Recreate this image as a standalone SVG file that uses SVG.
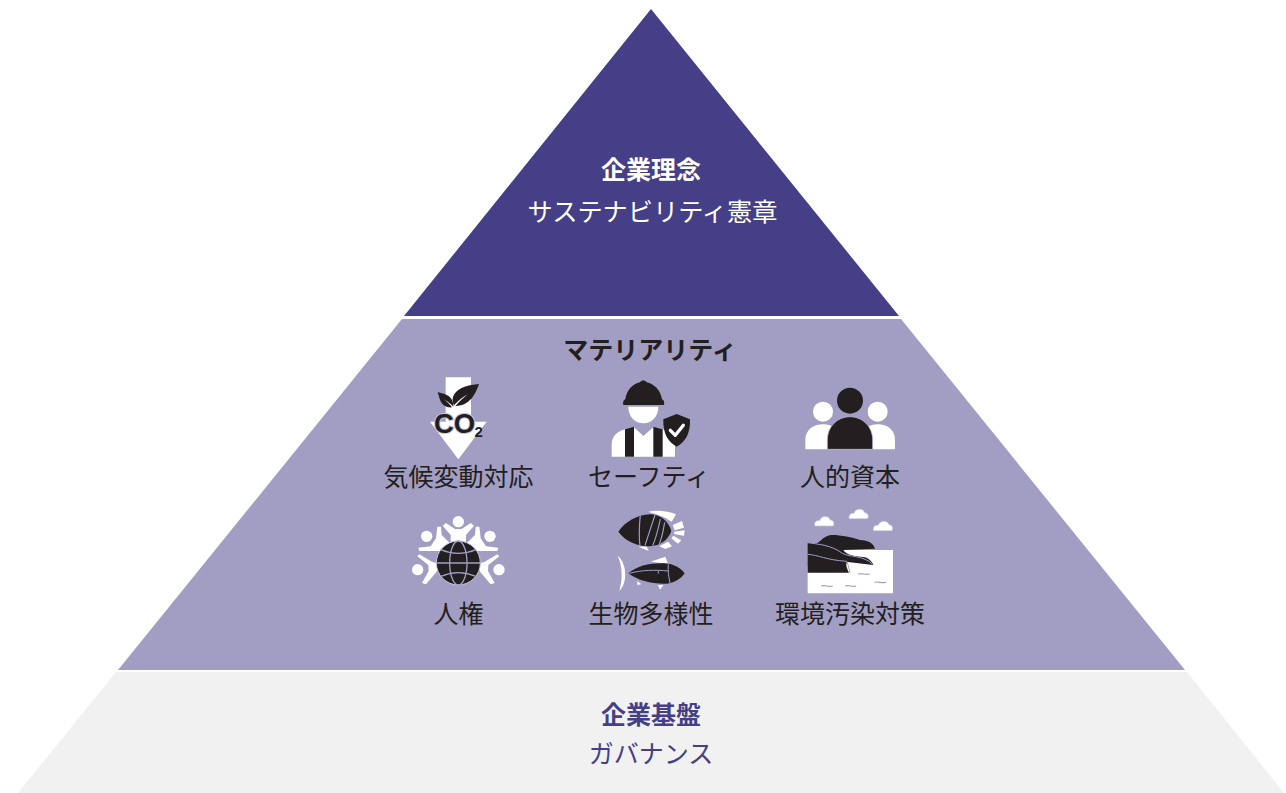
<svg xmlns="http://www.w3.org/2000/svg" width="1286" height="793" viewBox="0 0 1286 793">
<style>
text{font-family:"Noto Sans CJK JP","Noto Sans",sans-serif;font-size:25px;text-anchor:middle;fill:#231f20}
.b{font-weight:700}
.w{fill:#fff}
.p{fill:#453f87}
.k{fill:#231f20}
.lw{fill:none;stroke:#fff;stroke-linecap:round;stroke-linejoin:round}
.lm{fill:none;stroke:#a29ec3}
.hl{fill:#fff;stroke:#c9c6dd;stroke-width:2}
</style>
<rect width="1286" height="793" fill="#fff"/>
<g id="tier-top">
<polygon points="651,9 899,316 404,316" fill="#453f87"/>
<text class="b w" x="651" y="179">企業理念</text>
<text class="w" x="652.500" y="221" style="font-size:25.200px">サステナビリティ憲章</text>
</g>
<g id="tier-middle">
<polygon points="402,319 901,319 1185,670 118,670" fill="#a29ec3"/>
<text class="b" x="650" y="359">マテリアリティ</text>
</g>
<g id="tier-bottom">
<polygon points="116,672 1187,672 1284,793 18,793" fill="#f1f1f1"/>
<text class="b p" x="651" y="724">企業基盤</text>
<text class="p" x="651" y="763">ガバナンス</text>
</g>
<g id="climate">
<g transform="translate(400 370) scale(.33333)">
<polygon class="w" points="137,22 213,22 213,155 260,155 175,268 90,155 137,155"/>
<path class="k" d="M237,42C205,45 178,52 165,70C155,84 157,96 162,106C178,90 190,80 203,73C190,84 178,94 166,108C190,108 208,96 220,78C228,66 233,54 237,42Z"/>
<path class="k" d="M113,67C125,70 140,72 150,82C158,90 160,100 160,110C150,100 142,94 132,88C142,96 150,104 156,112C140,114 128,106 122,94C118,86 116,76 113,67Z"/>
</g>
<text x="434" y="433" style="font-family:'Liberation Sans',sans-serif;font-weight:700;font-size:27.500px;text-anchor:start;stroke:#c9c6dd;stroke-width:2;paint-order:stroke">CO</text>
<text x="474.500" y="436.500" style="font-family:'Liberation Sans',sans-serif;font-weight:700;font-size:15px;text-anchor:start">2</text>
<text x="458.500" y="486">気候変動対応</text>
</g>
<g id="safety">
<g transform="translate(590 370) scale(.33333)">
<path class="w" d="M115,110H205C205,140 185,160 160,160C135,160 115,140 115,110Z"/>
<path class="k" d="M100,105C98,98 100,90 106,88C110,60 128,42 150,37C154,30 166,30 170,37C192,42 212,60 216,88C222,90 224,98 222,105Z"/>
<path class="w" d="M65,260V225C65,200 80,185 105,178L132,172L160,198L190,172L218,178C240,185 255,200 255,225V260Z"/>
<path class="k" d="M105,178L132,170V260H105ZM190,170L218,178V260H190Z"/>
<path class="k" d="M260,132L300,148C302,190 285,218 260,230C235,218 218,190 220,148Z"/>
<polyline class="lw" stroke-width="10" points="241,181 256,196 280,166"/>
</g>
<text x="649" y="486">セーフティ</text>
</g>
<g id="human-capital">
<g transform="translate(790 375) scale(.33333)">
<circle class="w" cx="99" cy="110" r="30"/>
<circle class="w" cx="263" cy="110" r="30"/>
<path class="w" d="M46,223V195C46,165 70,148 99,148C128,148 150,165 150,195V223Z"/>
<path class="w" d="M315,223V195C315,165 292,148 263,148C234,148 212,165 212,195V223Z"/>
<circle class="k" cx="180" cy="77" r="39"/>
<path class="k" d="M112,223V195C112,155 142,125 180,125C218,125 248,155 248,195V223Z" stroke="#c9c6dd" stroke-width="2"/>
</g>
<text x="850" y="486">人的資本</text>
</g>
<g id="human-rights">
<g transform="translate(400 505) scale(.33333)">
<circle class="w" cx="175" cy="50" r="17"/>
<circle class="w" cx="80" cy="94" r="17"/>
<circle class="w" cx="270" cy="94" r="17"/>
<circle class="w" cx="53" cy="194" r="17"/>
<circle class="w" cx="297" cy="194" r="17"/>
<polygon class="w" points="128,62 138,54 165,72 185,72 212,54 222,62 198,90 198,110 152,110 152,90"/>
<polygon class="w" points="112,65 123,65 125,90 150,115 125,138 58,138 55,128 92,124 108,100"/>
<polygon class="w" points="238,65 227,65 225,90 200,115 225,138 292,138 295,128 258,124 242,100"/>
<polygon class="w" points="52,154 58,148 98,172 118,175 110,200 78,238 66,234 86,198 85,180"/>
<polygon class="w" points="298,154 292,148 252,172 232,175 240,200 272,238 284,234 264,198 265,180"/>
<circle class="k" cx="175" cy="174" r="66" stroke="#c9c6dd" stroke-width="3"/>
<g class="lm" stroke-width="4">
<ellipse cx="175" cy="174" rx="26" ry="66"/>
<path d="M109,174H241M122,134C155,148 195,148 228,134M122,214C155,200 195,200 228,214"/>
</g>
</g>
<text x="458.500" y="623">人権</text>
</g>
<g id="biodiversity">
<g transform="translate(600 505) scale(.33333)">
<path class="w" d="M145,20C170,14 205,18 228,28L215,50L195,38C180,30 162,26 145,20Z"/>
<path class="w" d="M218,60L246,48L252,68L224,76ZM222,80L254,76L252,92L224,88ZM220,92L244,106L234,116L214,100Z"/>
<path class="w" d="M115,125L140,124L146,138ZM178,124L204,110L216,124L196,132Z"/>
<path class="k" d="M55,80C75,50 110,30 150,28C180,28 205,48 214,78C205,105 180,122 150,124C110,124 75,108 55,80Z"/>
<g class="lm" stroke-width="3.500"><path d="M121,28C118,60 116,95 120,124M165,30C155,60 143,95 135,122M181,42C175,70 168,100 158,122M194,52C190,75 186,100 178,116"/></g>
<path class="w" d="M53,152C80,175 85,230 58,258C68,225 68,185 53,152Z"/>
<path class="w" d="M152,170L196,155L204,176ZM112,228L124,238L112,240ZM174,240L190,240L180,254Z"/>
<path class="k" d="M85,205C115,180 160,172 205,176C228,180 245,192 254,205C243,222 222,234 200,236C160,238 115,228 85,205Z"/>
<g class="lm" stroke-width="3"><path d="M88,205C125,195 165,194 205,198M205,178C203,198 206,215 210,234M175,198V206"/></g>
</g>
<text x="651" y="623">生物多様性</text>
</g>
<g id="pollution">
<g transform="translate(795 500) scale(.33333)">
<path class="hl" d="M60,78C56,66 66,60 74,62C78,46 102,46 106,60C116,60 120,72 114,78Z"/>
<path class="hl" d="M163,56C159,44 169,38 177,40C181,24 205,24 209,38C219,38 223,50 217,56Z"/>
<path class="hl" d="M236,92C232,80 242,74 250,76C254,60 278,60 282,74C292,74 296,86 290,92Z"/>
<polygon class="w" points="130,150 294,150 294,280 38,280 38,200"/>
<path class="k" d="M66,130C82,120 88,106 112,105C140,105 170,112 195,120C215,120 235,128 240,146L145,150C155,165 175,168 210,172C222,176 232,186 235,195L158,186C150,188 155,205 162,218H38V128Z"/>
<g class="lm" stroke-width="3"><path d="M38,128C70,133 110,135 142,160C165,172 205,166 232,192M38,163C70,165 95,180 155,184C160,195 162,205 165,218"/></g>
<g class="lm" stroke-width="3.500" stroke-linecap="round"><path d="M80,258C90,254 100,262 112,258M152,258C162,254 172,262 182,258M191,222C201,218 211,226 223,222M240,247C250,243 260,251 272,247"/></g>
</g>
<text x="850" y="623">環境汚染対策</text>
</g>
</svg>
